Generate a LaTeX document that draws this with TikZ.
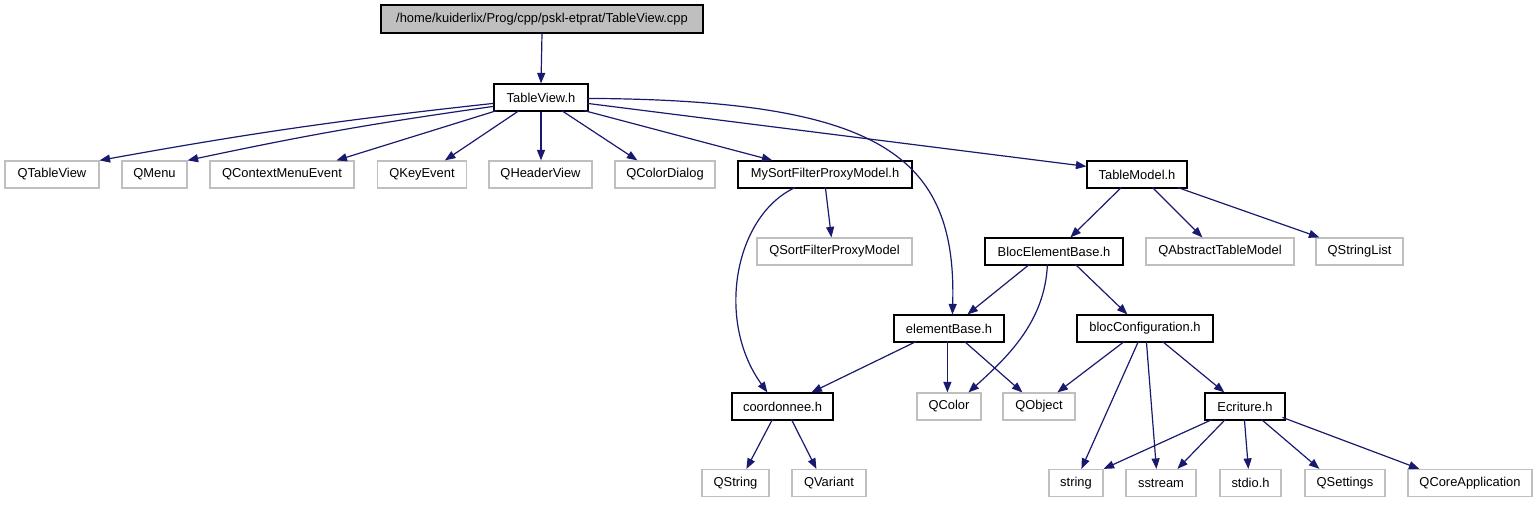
\documentclass[tikz,border=0pt]{standalone}
\usepackage{fontspec}
\setmainfont{Liberation Sans}
\usetikzlibrary{arrows.meta,calc}
\definecolor{edgec}{HTML}{191970}
\definecolor{gb}{HTML}{BFBFBF}
\begin{document}
\begin{tikzpicture}[x=1pt,y=-1pt,
  box/.style={draw=black,line width=1.2pt,minimum height=27pt,inner sep=0pt,
    font=\fontsize{12.9}{14}\selectfont,text=black},
  ext/.style={box,draw=gb},
  e/.style={draw=edgec,line width=1.2pt,-{Triangle[length=10.5pt,width=8pt]}}
]
\useasboundingbox (0,0) rectangle (1537,504);
% nodes
\node[box,fill=gb,minimum width=322pt,minimum height=28pt] (root) at (542,19) {/home/kuiderlix/Prog/cpp/pskl-etprat/TableView.cpp};
\node[box,minimum width=94pt] (tv) at (541,97.5) {TableView.h};
% row 2
\node[ext,minimum width=94pt] (qtv) at (52,174.5) {QTableView};
\node[ext,minimum width=65pt] (qmenu) at (154.5,174.5) {QMenu};
\node[ext,minimum width=144pt] (qcme) at (282,174.5) {QContextMenuEvent};
\node[ext,minimum width=89pt] (qke) at (422,174.5) {QKeyEvent};
\node[ext,minimum width=103pt] (qhv) at (540.5,174.5) {QHeaderView};
\node[ext,minimum width=100pt] (qcd) at (665,174.5) {QColorDialog};
\node[box,minimum width=174pt] (msf) at (825,174.5) {MySortFilterProxyModel.h};
\node[box,minimum width=100pt] (tm) at (1137,174.5) {TableModel.h};
% row 3
\node[ext,minimum width=155pt] (qsfpm) at (834.5,251.5) {QSortFilterProxyModel};
\node[box,minimum width=138pt] (beb) at (1054,251.5) {BlocElementBase.h};
\node[ext,minimum width=148pt] (qatm) at (1220,251.5) {QAbstractTableModel};
\node[ext,minimum width=87pt] (qsl) at (1359.5,251.5) {QStringList};
% row 4
\node[box,minimum width=110pt] (eb) at (949,328.5) {elementBase.h};
\node[box,minimum width=136pt] (bc) at (1145,328.5) {blocConfiguration.h};
% row 5
\node[box,minimum width=101pt] (coord) at (782.5,406.5) {coordonnee.h};
\node[ext,minimum width=64pt] (qcolor) at (949,406.5) {QColor};
\node[ext,minimum width=72pt] (qobject) at (1039,406.5) {QObject};
\node[box,minimum width=80pt] (ecr) at (1245,406.5) {Ecriture.h};
% row 6
\node[ext,minimum width=67pt] (qstr) at (735.5,483) {QString};
\node[ext,minimum width=74pt] (qvar) at (829,483) {QVariant};
\node[ext,minimum width=54pt] (str) at (1076,483) {string};
\node[ext,minimum width=70pt] (sst) at (1161,483) {sstream};
\node[ext,minimum width=61pt] (stdio) at (1250.5,483) {stdio.h};
\node[ext,minimum width=80pt] (qset) at (1345,483) {QSettings};
\node[ext,minimum width=124pt] (qca) at (1470,483) {QCoreApplication};
% edges
\draw[e] (root.south) -- (tv.north);
\draw[e] ($(tv.north west)+(0,20)$) to[bend right=2] (qtv.north east);
\draw[e] ($(tv.north west)+(0,23)$) to[bend right=2] (qmenu.north east);
\draw[e] ($(tv.north west)+(4,27)$) -- ($(qcme.north west)+(127,0)$);
\draw[e] ($(tv.north west)+(26,27)$) -- ($(qke.north west)+(68,0)$);
\draw[e] (tv.south) -- (tv.south |- qhv.north);
\draw[e] ($(tv.north west)+(68,27)$) -- ($(qcd.north west)+(23,0)$);
\draw[e] ($(tv.north west)+(90,27)$) -- ($(msf.north west)+(35,0)$);
\draw[e] ($(tv.north west)+(94,20)$) -- ($(tm.north west)+(0,6)$);
\draw[e] ($(tv.north west)+(94,15)$) .. controls (880,100) and (957,155) .. ($(eb.north west)+(59,0)$);
\draw[e] ($(msf.north west)+(58,27)$) .. controls (735,215) and (715,320) .. ($(coord.north west)+(36,0)$);
\draw[e] ($(msf.north west)+(88,27)$) -- ($(qsfpm.north west)+(75,0)$);
\draw[e] ($(tm.north west)+(35,27)$) -- ($(beb.north west)+(86,0)$);
\draw[e] ($(tm.north west)+(66,27)$) -- ($(qatm.north west)+(57,0)$);
\draw[e] ($(tm.north west)+(91,27)$) -- ($(qsl.north west)+(4,0)$);
\draw[e] ($(beb.north west)+(45,27)$) -- ($(eb.north west)+(74,0)$);
\draw[e] ($(beb.north west)+(63,27)$) .. controls (1045,320) and (1010,355) .. ($(qcolor.north west)+(52,0)$);
\draw[e] ($(beb.north west)+(91,27)$) -- ($(bc.north west)+(51,0)$);
\draw[e] ($(eb.north west)+(23,27)$) -- ($(coord.north west)+(80,0)$);
\draw[e] ($(eb.north west)+(54,27)$) -- ($(qcolor.north west)+(31,0)$);
\draw[e] ($(eb.north west)+(71,27)$) -- ($(qobject.north west)+(20,0)$);
\draw[e] ($(bc.north west)+(48,27)$) -- ($(qobject.north west)+(55,0)$);
\draw[e] ($(bc.north west)+(62,27)$) -- ($(str.north west)+(33,0)$);
\draw[e] ($(bc.north west)+(70,27)$) -- ($(sst.north west)+(31,0)$);
\draw[e] ($(bc.north west)+(86,27)$) -- ($(ecr.north west)+(20,0)$);
\draw[e] ($(ecr.north west)+(8,27)$) -- (str.north east);
\draw[e] ($(ecr.north west)+(21,27)$) -- ($(sst.north west)+(52,0)$);
\draw[e] ($(ecr.north west)+(40,27)$) -- ($(stdio.north west)+(29,0)$);
\draw[e] ($(ecr.north west)+(57,27)$) -- ($(qset.north west)+(15,0)$);
\draw[e] ($(ecr.north west)+(78,25)$) -- ($(qca.north west)+(12,0)$);
\draw[e] ($(coord.north west)+(41,27)$) -- ($(qstr.north west)+(45,0)$);
\draw[e] ($(coord.north west)+(60,27)$) -- ($(qvar.north west)+(25,0)$);
\end{tikzpicture}
\end{document}
